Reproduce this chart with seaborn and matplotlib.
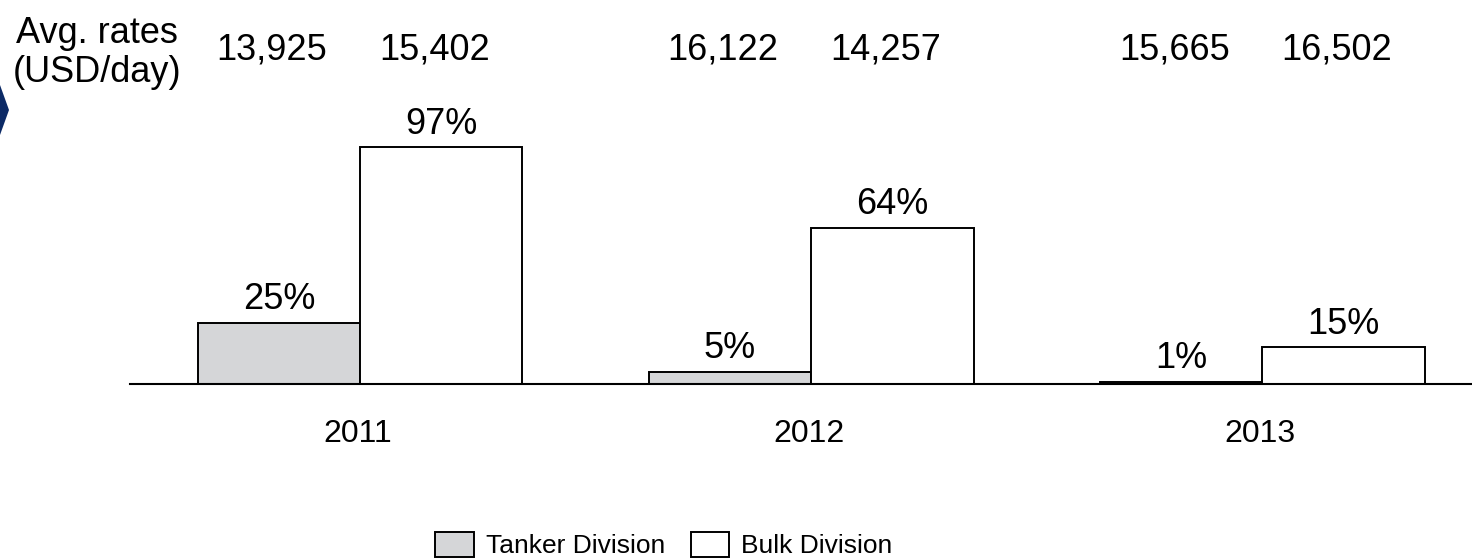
import matplotlib
matplotlib.use("Agg")
import matplotlib.pyplot as plt
import matplotlib.transforms as mtransforms
from matplotlib.patches import Polygon
import seaborn as sns
import pandas as pd

# ---- data ----
years = ["2011", "2012", "2013"]
divisions = ["Tanker Division", "Bulk Division"]
tanker_pct = [25, 5, 1]
bulk_pct = [97, 64, 15]
tanker_rates = ["13,925", "16,122", "15,665"]
bulk_rates = ["15,402", "14,257", "16,502"]
rate_header = "Avg. rates\n(USD/day)"

df = pd.DataFrame({
    "year": years * 2,
    "division": [divisions[0]] * 3 + [divisions[1]] * 3,
    "pct": tanker_pct + bulk_pct,
})

sns.set_theme(style="white")
plt.rcParams["font.family"] = ["Liberation Sans", "DejaVu Sans"]
plt.rcParams["text.color"] = "black"

W, H = 1472, 558
fig = plt.figure(figsize=(W / 100, H / 100), dpi=100)
ax = fig.add_axes([130 / W, 174 / H, 1342 / W, 244 / H])

palette = {divisions[0]: "#d5d6d8", divisions[1]: "#ffffff"}
sns.barplot(data=df, x="year", y="pct", hue="division", hue_order=divisions,
            order=years, palette=palette, width=0.72, edgecolor="black",
            linewidth=1.4, saturation=1, ax=ax)

ax.set_xlim(-0.51, 2.465)
ax.set_ylim(0, 100)
for s in ["top", "left", "right"]:
    ax.spines[s].set_visible(False)
ax.spines["bottom"].set_color("black")
ax.spines["bottom"].set_linewidth(1.5)
ax.set_yticks([])
ax.set_xticks([])
ax.set_xlabel("")
ax.set_ylabel("")

# percentage labels
pct_series = [tanker_pct, bulk_pct]
for cont, vals in zip(ax.containers, pct_series):
    ax.bar_label(cont, labels=[f"{v}%" for v in vals], padding=4,
                 fontsize=26, color="black")

# rate labels and year labels
trans = mtransforms.blended_transform_factory(ax.transData, fig.transFigure)
rates = [tanker_rates, bulk_rates]
for cont, vals in zip(ax.containers, rates):
    for bar, v in zip(cont.patches, vals):
        xc = bar.get_x() + bar.get_width() / 2
        ax.text(xc - 0.015, 1 - 50 / H, v, transform=trans, ha="center",
                va="center", fontsize=26, color="black", clip_on=False)

for i, y in enumerate(years):
    ax.text(i - 0.005, 1 - 434 / H, y, transform=trans, ha="center",
            va="center", fontsize=23, color="black", clip_on=False)

fig.text(97 / W, 1 - 53 / H, rate_header, ha="center", va="center",
         fontsize=26, linespacing=1.12, color="black")

# navy chevron on left edge
fig.patches.append(Polygon([[0, 1 - 85 / H], [9 / W, 1 - 110 / H], [0, 1 - 135 / H]],
                           closed=True, transform=fig.transFigure,
                           facecolor="#0c2a66", edgecolor="none"))

# legend
sns.move_legend(ax, "center", bbox_to_anchor=(664 / W, 13 / H),
                bbox_transform=fig.transFigure, ncol=2, frameon=False,
                title=None, fontsize=19, handlelength=1.45, handleheight=1.1,
                handletextpad=0.45, columnspacing=1.0)
leg = ax.get_legend()
for h in leg.legend_handles:
    h.set_edgecolor("black")
    h.set_linewidth(1.4)
for t in leg.get_texts():
    t.set_color("black")

fig.savefig("out.png", dpi=100, facecolor="white")
